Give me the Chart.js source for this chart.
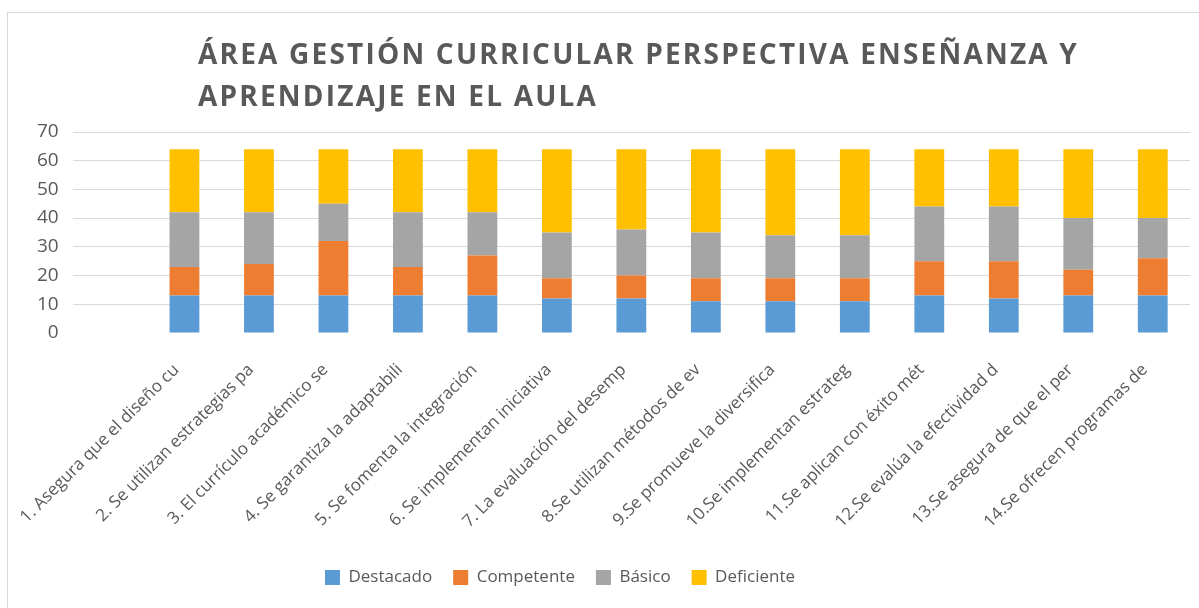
<!DOCTYPE html>
<html>
<head>
<meta charset="utf-8">
<script src="https://cdn.jsdelivr.net/npm/chart.js@4.4.0/dist/chart.umd.min.js"></script>
<style>
  html, body { margin: 0; padding: 0; background: #fff; }
  #wrap { position: relative; width: 1199px; height: 608px; overflow: hidden; }
  #frame {
    position: absolute; left: 7px; top: 12px; width: 1400px; height: 800px;
    border-left: 1px solid #d9d9d9; border-top: 1px solid #d9d9d9;
  }
  #title {
    position: absolute; left: 198px; top: 32px;
    font: bold 28px "Open Sans", sans-serif; line-height: 42px; color: #595959;
    letter-spacing: 2.2px; white-space: nowrap;
  }
  #chart { position: absolute; left: 0; top: 0; }
</style>
</head>
<body>
<div id="wrap">
  <div id="frame"></div>
  <canvas id="chart" width="1199" height="608"></canvas>
  <div id="title">ÁREA GESTIÓN CURRICULAR PERSPECTIVA ENSEÑANZA Y<br>APRENDIZAJE EN EL AULA</div>
</div>
<script>
// categorias (texto recortado tal como se ve en el grafico)
const categorias = [
    "1. Asegura que el diseño cu",
    "2. Se utilizan estrategias pa",
    "3. El currículo académico se",
    "4. Se garantiza la adaptabili",
    "5. Se fomenta la integración",
    "6. Se implementan iniciativa",
    "7. La evaluación del desemp",
    "8.Se utilizan métodos de ev",
    "9.Se promueve la diversifica",
    "10.Se implementan estrateg",
    "11.Se aplican con éxito mét",
    "12.Se evalúa la efectividad d",
    "13.Se asegura de que el per",
    "14.Se ofrecen programas de"
];

const destacado  = [13, 13, 13, 13, 13, 12, 12, 11, 11, 11, 13, 12, 13, 13];
const competente = [10, 11, 19, 10, 14,  7,  8,  8,  8,  8, 12, 13,  9, 13];
const basico     = [19, 18, 13, 19, 15, 16, 16, 16, 15, 15, 19, 19, 18, 14];
const deficiente = [22, 22, 19, 22, 22, 29, 28, 29, 30, 30, 20, 20, 24, 24];

const yTicks = [0, 10, 20, 30, 40, 50, 60, 70];

const gris = "#595959";

// hueco vacio al inicio del eje, como en el original
const labels = ["", ...categorias];
const pad = arr => [null, ...arr];

// centra la leyenda donde estaba en Excel
const legendShift = {
    id: "legendShift",
    afterLayout(chart) {
        const lg = chart.legend;
        if (!lg) return;
        const dx = 560 - (lg.left + lg.right) / 2;
        lg.left += dx;
        lg.right += dx;
    }
};

new Chart(document.getElementById("chart"), {
    type: "bar",
    data: {
        labels,
        datasets: [
            { label: "Destacado",  data: pad(destacado),  backgroundColor: "#5B9BD5" },
            { label: "Competente", data: pad(competente), backgroundColor: "#ED7D31" },
            { label: "Básico",     data: pad(basico),     backgroundColor: "#A5A5A5" },
            { label: "Deficiente", data: pad(deficiente), backgroundColor: "#FFC000" }
        ]
    },
    plugins: [legendShift],
    options: {
        responsive: false,
        animation: false,
        layout: { padding: { top: 132, left: 23, right: 9, bottom: 12 } },
        datasets: { bar: { barPercentage: 1, categoryPercentage: 0.4 } },
        plugins: {
            title: { display: false },
            tooltip: { enabled: false },
            legend: {
                position: "bottom",
                labels: {
                    color: gris,
                    font: { family: "Open Sans", size: 17 },
                    boxWidth: 15, boxHeight: 15,
                    padding: 21
                }
            }
        },
        scales: {
            x: {
                stacked: true,
                grid: { display: false },
                border: { display: false },
                afterFit: axis => { axis.height -= 3; },
                ticks: {
                    color: gris,
                    font: { family: "Open Sans", size: 17 },
                    autoSkip: false,
                    maxRotation: 45, minRotation: 45,
                    padding: 19,
                    labelOffset: -8
                }
            },
            y: {
                stacked: true,
                min: yTicks[0],
                max: yTicks[yTicks.length - 1],
                border: { display: false },
                grid: {
                    drawTicks: false,
                    color: ctx => ctx.tick && ctx.tick.value === 0 ? "rgba(0,0,0,0)" : "#D9D9D9"
                },
                afterBuildTicks: axis => { axis.ticks = yTicks.map(v => ({ value: v })); },
                ticks: {
                    color: gris,
                    font: { family: "Open Sans", size: 19 },
                    padding: 14
                }
            }
        }
    }
});
</script>
</body>
</html>
